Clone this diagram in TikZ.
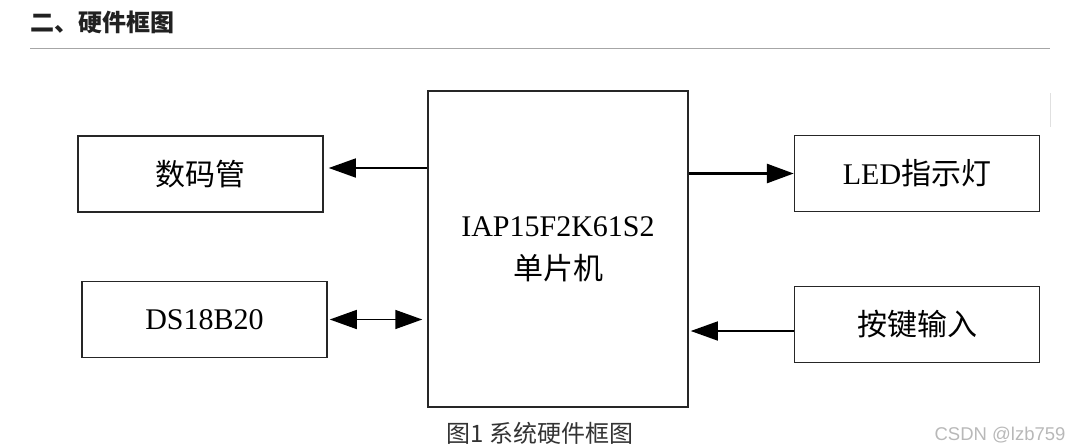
\documentclass[tikz,border=0pt]{standalone}
\usepackage{fontspec}
\setmainfont{Liberation Serif}
\newfontfamily\cjk{Noto Sans CJK SC}
\newfontfamily\wmfont{Liberation Sans}
\usetikzlibrary{arrows.meta}

\begin{document}
\begin{tikzpicture}[x=1pt,y=-1pt,
    box/.style={draw=black!85, line width=1.5pt, minimum width=245pt,
                minimum height=76pt, inner sep=0pt,
                font=\fontsize{30}{43}\selectfont},
    arr/.style={line width=1.5pt, -{Triangle[length=27pt,width=19pt]}},
    every node/.style={inner sep=0pt}]

\useasboundingbox (0,0) rectangle (1079,447);

% ==== 标题 + 分隔线 ====
\node[anchor=west, text=black!87, font=\cjk\bfseries\fontsize{24}{24}\selectfont]
  (title) at (30,22) {二、硬件框图};
\draw[black!35, line width=1pt] (30,48) -- (1050,48);
\draw[black!12, line width=1pt] (1050,93) -- (1050,127);

% ==== 中间的单片机 ====
\node[box, minimum width=260pt, minimum height=316pt, align=center]
  (mcu) at (558,249) {IAP15F2K61S2\\{\cjk 单片机}};

% ==== 左右四个模块 ====
\node[box] (smg) at (200.5,174) {\cjk 数码管};
\node[box] (ds)  at (204.5,319.5) {DS18B20};
\node[box] (led) at (917,173.5) {LED{\cjk 指示灯}};
\node[box] (key) at (917,324.5) {\cjk 按键输入};

% ==== 箭头 ====
\draw[arr] ([yshift=6pt]smg.east -| mcu.west) -- ([xshift=5pt,yshift=6pt]smg.east);
\draw[arr, {Triangle[length=27pt,width=19pt]}-{Triangle[length=27pt,width=19pt]}]
  ([xshift=2pt]ds.east) -- ([xshift=-5pt]ds.east -| mcu.west);
\draw[arr, line width=3pt] (led.west -| mcu.east) -- (led.west);
\draw[arr] ([yshift=-6.5pt]key.west) -- ([xshift=2pt,yshift=-6.5pt]key.west -| mcu.east);

% ==== 图注 + 水印 ====
\node[text=black!80, font=\cjk\fontsize{24}{24}\selectfont]
  (cap) at (540,433) {图1 系统硬件框图};
\node[text=black!28, font=\wmfont\fontsize{18.5}{18.5}\selectfont]
  (wm) at (1000,435) {CSDN @lzb759};

\end{tikzpicture}
\end{document}
